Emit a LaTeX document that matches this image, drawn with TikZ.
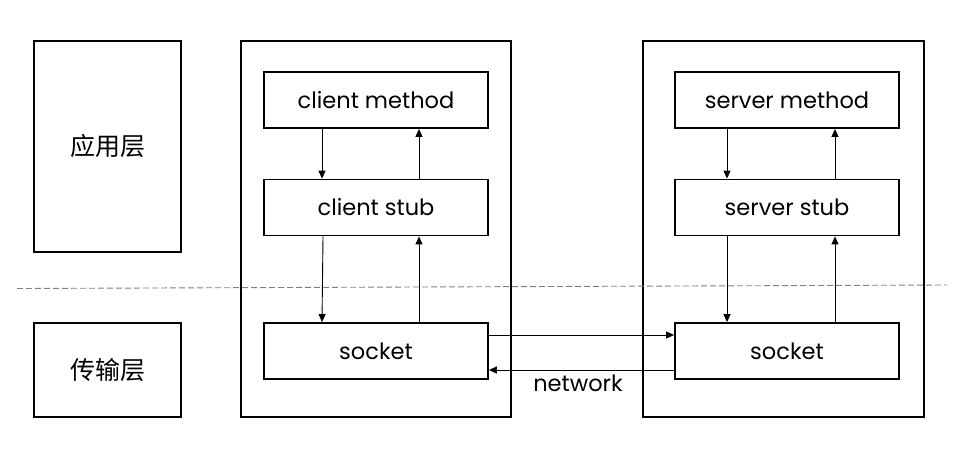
\documentclass[tikz,border=0pt]{standalone}
\usepackage{fontspec}
\setmainfont{Poppins}
\newfontfamily\cjk{Noto Sans CJK SC}
\usepackage{tikz}
\usetikzlibrary{arrows.meta,positioning,calc}

\tikzset{
	layer/.style={draw,line width=1.8pt,minimum width=147pt,inner sep=0pt,font=\cjk\fontsize{25}{30}\selectfont},
	host/.style={draw,line width=1.8pt,minimum height=376pt,inner sep=0pt},
	part/.style={draw,line width=1.8pt,minimum width=224pt,minimum height=56pt,inner sep=0pt,font=\fontsize{22.5}{27}\selectfont},
	link/.style={line width=0.9pt,-{Triangle[length=8pt,width=7pt]}}
}

\begin{document}
\begin{tikzpicture}[x=1pt,y=-1pt]
	\useasboundingbox (0,0) rectangle (960,461);
	% layers
	\node[layer,minimum height=211pt] (app) at (107.5,146.5) {应用层};
	\node[layer,minimum height=94pt] (trans) at (107.5,370) {传输层};
	% client and server
	\node[host,minimum width=270pt] (client) at (376,229) {};
	\node[host,minimum width=281pt] (server) at (783.5,229) {};
	\node[part] (cm) at (376,100) {client method};
	\node[part] (cs) at (376,207.5) {client stub};
	\node[part] (csock) at (376,351) {socket};
	\node[part] (sm) at (787,100) {server method};
	\node[part] (ss) at (787,207.5) {server stub};
	\node[part] (ssock) at (787,351) {socket};
	% calls
	\draw[link] ([xshift=-54pt]cm.south) -- ([xshift=-54pt]cs.north);
	\draw[link] ([xshift=43pt]cs.north) -- ([xshift=43pt]cm.south);
	\draw[link] ([xshift=-53pt]cs.south) -- ([xshift=-54pt]csock.north);
	\draw[link] ([xshift=43pt]csock.north) -- ([xshift=43pt]cs.south);
	\draw[link] ([xshift=-60pt]sm.south) -- ([xshift=-60pt]ss.north);
	\draw[link] ([xshift=48pt]ss.north) -- ([xshift=48pt]sm.south);
	\draw[link] ([xshift=-60pt]ss.south) -- ([xshift=-60pt]ssock.north);
	\draw[link] ([xshift=48pt]ssock.north) -- ([xshift=48pt]ss.south);
	% network
	\draw[link] ([yshift=16pt]csock.east) -- ([yshift=16pt]ssock.west);
	\draw[link] ([yshift=-19pt]ssock.west) -- ([yshift=-19pt]csock.east);
	\node[font=\fontsize{22.5}{27}\selectfont] (net) at (578,383) {network};
	% boundary
	\coordinate (bl) at (17,288.5);
	\coordinate (br) at (947,285);
	\draw[gray,line width=0.9pt,dash pattern=on 6pt off 3pt] (bl) -- (br);
\end{tikzpicture}
\end{document}
